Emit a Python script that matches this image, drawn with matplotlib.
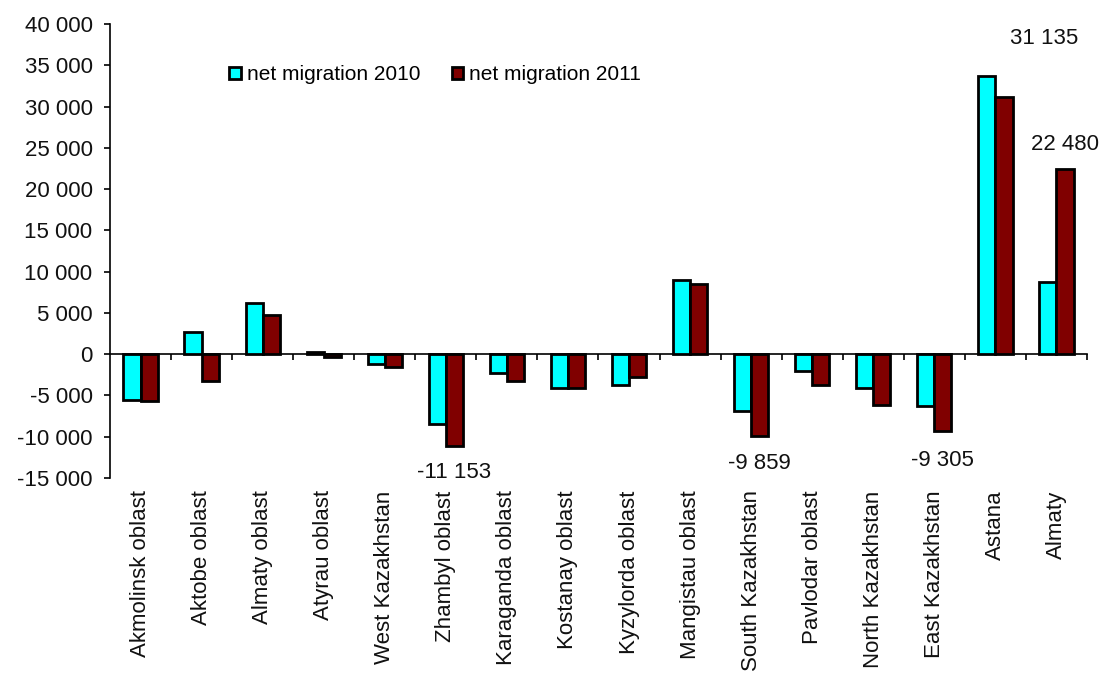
import matplotlib.pyplot as plt
import numpy as np

plt.rcParams['font.family'] = ['Liberation Sans', 'DejaVu Sans']

# ---- data ----
regions = ["Akmolinsk oblast", "Aktobe oblast", "Almaty oblast", "Atyrau oblast",
           "West Kazakhstan", "Zhambyl oblast", "Karaganda oblast", "Kostanay oblast",
           "Kyzylorda oblast", "Mangistau oblast", "South Kazakhstan", "Pavlodar oblast",
           "North Kazakhstan", "East Kazakhstan", "Astana", "Almaty"]
net_2010 = [-5500, 2700, 6200, 200, -1200, -8500, -2300, -4100,
            -3700, 9000, -6900, -2100, -4100, -6300, 33700, 8700]
net_2011 = [-5700, -3200, 4800, -400, -1600, -11153, -3200, -4100,
            -2800, 8500, -9859, -3700, -6200, -9305, 31135, 22480]
labelled = [5, 10, 13, 14, 15]   # bars of 2011 that carry a value label

yticks = np.arange(-15000, 40001, 5000)


def fmt(v):
    return f"{v:,}".replace(",", " ")


fig = plt.figure(figsize=(11.03, 6.73), dpi=100)
ax = fig.add_axes([0.0997, 0.2898, 0.8858, 0.6746])

x = np.arange(len(regions))
w = 0.28
ax.bar(x - w / 2, net_2010, w, color='#00FFFF', edgecolor='black',
       linewidth=2.0, label='net migration 2010', zorder=3)
bars = ax.bar(x + w / 2, net_2011, w, color='#800000', edgecolor='black',
              linewidth=2.0, label='net migration 2011', zorder=3)

# value labels (offsets in points, as placed in the original)
offsets = {5: (0, 19), 10: (0, 20), 13: (0, 21), 14: (29, 42), 15: (0, 17)}
for i in labelled:
    b = bars[i]
    v = net_2011[i]
    dx, dy = offsets[i]
    ax.annotate(fmt(v), (b.get_x() + b.get_width() / 2, v),
                xytext=(dx, dy if v > 0 else -dy), textcoords='offset points',
                ha='center', va='center', fontsize=16, color='#111111')

ax.set_xlim(-0.5, len(regions) - 0.5)
ax.set_ylim(-15000, 40000)
ax.set_yticks(yticks)
ax.set_yticklabels([fmt(v) for v in yticks], fontsize=16, color='#111111')
ax.tick_params(axis='y', direction='out', length=4.5, width=1.2, pad=8)

ax.spines['top'].set_visible(False)
ax.spines['right'].set_visible(False)
ax.spines['left'].set_linewidth(1.2)
ax.spines['bottom'].set_position(('data', 0))
ax.spines['bottom'].set_linewidth(1.2)

ax.set_xticks(x)
ax.set_xticklabels(regions, rotation=90, fontsize=16, color='#111111')
ax.set_xticks(np.arange(0.5, len(regions), 1), minor=True)
ax.tick_params(axis='x', which='major', length=0, pad=98)
ax.tick_params(axis='x', which='minor', direction='out', length=4.5, width=1.2)

ax.legend(loc='center left', bbox_to_anchor=(0.122, 0.888), ncol=2, frameon=False,
          fontsize=15, handlelength=0.55, handleheight=0.55, handletextpad=0.3,
          columnspacing=1.5, borderpad=0, borderaxespad=0)

fig.savefig('out.png', dpi=100)
